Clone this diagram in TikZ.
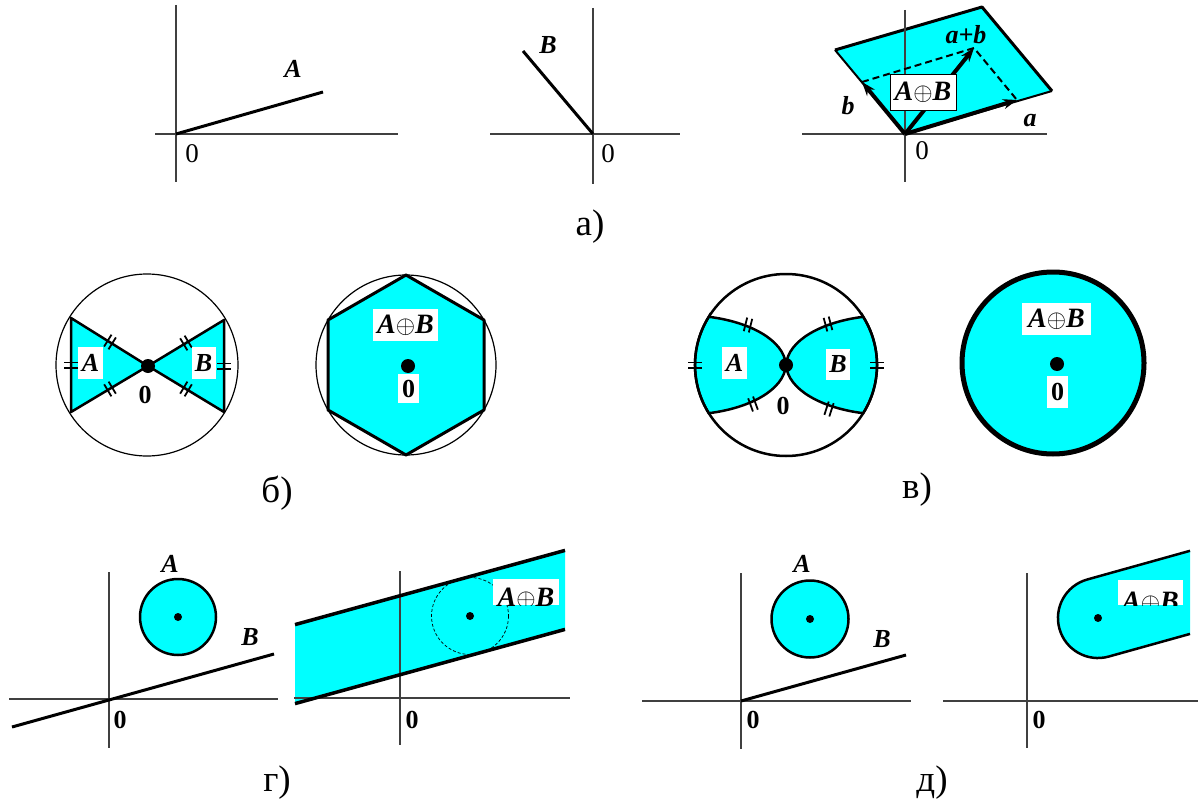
\documentclass[tikz,border=0pt]{standalone}
\usepackage{fontspec}
\setmainfont{Liberation Serif}
\usetikzlibrary{arrows.meta}
\definecolor{aqua}{RGB}{0,255,255}
\begin{document}
\begin{tikzpicture}[x=1pt,y=-1pt,
  axis/.style={line width=1.1pt, black!75},
  seg/.style={line width=3pt, black},
  lbl/.style={font=\fontsize{26}{28}\selectfont\bfseries\itshape, inner sep=0pt},
  zero/.style={font=\fontsize{27}{29}\selectfont, inner sep=0pt},
  bzero/.style={font=\fontsize{26}{28}\selectfont\bfseries, inner sep=0pt},
  sumtxt/.style={font=\fontsize{28}{30}\selectfont\bfseries\itshape, inner sep=0pt},
  wbox/.style={fill=white, inner sep=0pt},
  capt/.style={font=\fontsize{37}{40}\selectfont, inner sep=0pt},
  bigdot/.style={circle, fill=black, inner sep=0pt, minimum size=14pt},
  smalldot/.style={circle, fill=black, inner sep=0pt, minimum size=8pt},
  vec/.style={line width=4pt, -{Stealth[length=14pt,width=10pt]}},
  dtick/.pic={\draw[line width=1.8pt] (-2.6,-7) -- (-2.6,7) (2.6,-7) -- (2.6,7);}
]
\useasboundingbox (0,0) rectangle (1198,805);

% ================= panel a) left =================
\coordinate (o1) at (176,134);
\coordinate (a1e) at (323,92);
\draw[axis] (155,134) -- (398,134);
\draw[axis] (176,5) -- (176,182);
\draw[seg] (o1) -- (a1e);
\node[lbl] (A1) at (293,69) {A};
\node[zero] (z1) at (192,154) {0};

% ================= panel a) middle =================
\coordinate (o2) at (593,134);
\coordinate (b2e) at (523,51);
\draw[axis] (490,134) -- (680,134);
\draw[axis] (593,8) -- (593,184);
\draw[seg] (o2) -- (b2e);
\node[lbl] (B2) at (548,45) {B};
\node[zero] (z2) at (608,154) {0};

% ================= panel a) right =================
\coordinate (o3) at (905,134);
\coordinate (p1) at (1052,91);
\coordinate (p2) at (982,7);
\coordinate (p3) at (835,50);
\coordinate (ta) at (1017,100);
\coordinate (tb) at (862,82);
\coordinate (tab) at (974,48);
\fill[aqua] (o3) -- (p1) -- (p2) -- (p3) -- cycle;
\draw[line width=2pt] (p1) -- (o3) -- (p3);
\draw[line width=3pt, line join=round] (p3) -- (p2) -- (p1);
\draw[axis] (802,134) -- (1047,134);
\draw[axis] (905,10) -- (905,182);
\draw[line width=2pt, dashed, dash pattern=on 7pt off 4pt] (tb) -- (tab) -- (ta);
\draw[vec] (o3) -- (ta);
\draw[vec] (o3) -- (tb);
\draw[vec] (o3) -- (tab);
\node[draw, fill=white, line width=0.8pt, minimum width=66pt, minimum height=36pt, inner sep=0pt,
      sumtxt] (S3) at (923,92) {A$\oplus$B};
\node[lbl] (ab) at (966,35) {a+b};
\node[lbl] (lb) at (848,106) {b};
\node[lbl] (la) at (1030,121) {a};
\node[zero] (z3) at (922,151) {0};

\node[capt] (capa) at (590,227) {а)};

% ================= panel б) left =================
\coordinate (c4) at (147,365);
\coordinate (o4) at (148,366);
\draw[line width=1.2pt] (c4) circle (91);
\filldraw[fill=aqua, line width=2.5pt, line join=round] (71,318) -- (o4) -- (71,412) -- cycle;
\filldraw[fill=aqua, line width=2.5pt, line join=round] (224,320) -- (o4) -- (224,412) -- cycle;
\node[bigdot] (d4) at (o4) {};
\pic[rotate=-32] at (110,342) {dtick};
\pic[rotate=31] at (110,389) {dtick};
\pic[rotate=31] at (186,343) {dtick};
\pic[rotate=-31] at (186,389) {dtick};
\pic[rotate=90] at (71,365) {dtick};
\pic[rotate=90] at (224,366) {dtick};
\node[wbox, minimum width=25pt, minimum height=32pt, lbl] (A4) at (90.5,363) {A};
\node[wbox, minimum width=24pt, minimum height=32pt, lbl] (B4) at (203.5,363) {B};
\node[bzero] (z4) at (145,395) {0};

% ================= panel б) right =================
\coordinate (c5) at (406,365);
\draw[line width=1.2pt] (c5) circle (90);
\filldraw[fill=aqua, line width=3pt, line join=round]
  (406,275) -- (484,320) -- (484,410) -- (406,455) -- (328,410) -- (328,320) -- cycle;
\node[wbox, minimum width=65pt, minimum height=32pt, sumtxt] (S5) at (405.5,325) {A$\oplus$B};
\node[bigdot] (d5) at (408,366) {};
\node[wbox, minimum width=21pt, minimum height=29pt, bzero] (z5) at (408.5,388.5) {0};

\node[capt] (capb) at (277,493) {б)};

% ================= panel в) left =================
\coordinate (c6) at (786,365);
\filldraw[fill=aqua, line width=2.5pt]
  (708.8,316.8) .. controls (750,322) and (784,340) .. (786,365)
  .. controls (784,390) and (750,408) .. (708.8,413.2)
  arc (148:212:91) -- cycle;
\filldraw[fill=aqua, line width=2.5pt]
  (863.2,316.8) .. controls (822,322) and (788,340) .. (786,365)
  .. controls (788,390) and (822,408) .. (863.2,413.2)
  arc (32:-32:91) -- cycle;
\draw[line width=2.5pt] (c6) circle (91);
\node[bigdot] (d6) at (c6) {};
\pic[rotate=-14] at (748,325) {dtick};
\pic[rotate=20] at (753,404) {dtick};
\pic[rotate=15] at (828,324) {dtick};
\pic[rotate=-18] at (829,409) {dtick};
\pic[rotate=90] at (695,365) {dtick};
\pic[rotate=90] at (877,365) {dtick};
\node[wbox, minimum width=25pt, minimum height=32pt, lbl] (A6) at (734.5,363) {A};
\node[wbox, minimum width=24pt, minimum height=31pt, lbl] (B6) at (838,364.5) {B};
\node[bzero] (z6) at (783,406) {0};

% ================= panel в) right =================
\coordinate (c7) at (1053,363);
\filldraw[fill=aqua, line width=5pt] (c7) circle (91);
\node[wbox, minimum width=69pt, minimum height=32pt, sumtxt] (S7) at (1056.5,319) {A$\oplus$B};
\node[bigdot] (d7) at (1057,364) {};
\node[wbox, minimum width=21pt, minimum height=32pt, bzero] (z7) at (1057.5,392) {0};

\node[capt] (capv) at (917,490) {в)};

% ================= panel г) left =================
\coordinate (o8) at (109,699);
\coordinate (c8) at (178,617);
\coordinate (l8a) at (12,727);
\coordinate (l8b) at (274,654);
\draw[axis] (9,699) -- (278,699);
\draw[axis] (109,572) -- (109,748);
\draw[seg] (l8a) -- (l8b);
\filldraw[fill=aqua, line width=2.5pt] (c8) circle (38);
\node[smalldot] (d8) at (c8) {};
\node[lbl] (A8) at (170,564) {A};
\node[lbl] (B8) at (250,637) {B};
\node[bzero] (z8) at (120,720) {0};

% ================= panel г) right =================
\coordinate (c9) at (470,616);
\coordinate (u9a) at (295,624.6);
\coordinate (u9b) at (565,550.4);
\coordinate (w9a) at (295,703.6);
\coordinate (w9b) at (565,629.4);
\fill[aqua] (u9a) -- (u9b) -- (w9b) -- (w9a) -- cycle;
\draw[axis] (294,698) -- (570,698);
\draw[axis] (400,571) -- (400,745);
\draw[line width=3.5pt] (u9a) -- (u9b);
\draw[line width=3.5pt] (w9a) -- (w9b);
\draw[line width=0.7pt, densely dashed] (c9) circle (38.5);
\node[smalldot] (d9) at (c9) {};
\fill[white] (493,579) rectangle (559,605);
\begin{scope}
  \clip (493,579) rectangle (559,605);
  \node[sumtxt, anchor=base] (S9) at (526,606) {A$\oplus$B};
\end{scope}
\node[bzero] (z9) at (412,720) {0};

\node[capt] (capg) at (277,783) {г)};

% ================= panel д) left =================
\coordinate (o10) at (741,701);
\coordinate (e10) at (906,655);
\coordinate (c10) at (810,619);
\draw[axis] (642,701) -- (911,701);
\draw[axis] (741,573) -- (741,749);
\draw[seg] (o10) -- (e10);
\filldraw[fill=aqua, line width=2.5pt] (c10) circle (38.5);
\node[smalldot] (d10) at (c10) {};
\node[lbl] (A10) at (802,564) {A};
\node[lbl] (B10) at (882,639) {B};
\node[bzero] (z10) at (753,720) {0};

% ================= panel д) right =================
\coordinate (c11) at (1098,618);
\coordinate (ut) at (1087.2,579.5);
\coordinate (ue) at (1190,550.8);
\coordinate (lt) at (1108.8,656.5);
\coordinate (le) at (1190,633.9);
\draw[axis] (943,701) -- (1198,701);
\draw[axis] (1027,573) -- (1027,748);
\fill[aqua] (c11) circle (40);
\fill[aqua] (ut) -- (ue) -- (le) -- (lt) -- cycle;
\draw[line width=2.5pt] (ue) -- (ut) arc (254.4:74.4:40) -- (le);
\node[smalldot] (d11) at (c11) {};
\fill[white] (1118,580) rectangle (1183,605);
\begin{scope}
  \clip (1118,580) rectangle (1183,605);
  \node[sumtxt, anchor=base] (S11) at (1150.5,610) {A$\oplus$B};
\end{scope}
\node[bzero] (z11) at (1039,720) {0};

\node[capt] (capd) at (932,783) {д)};
\end{tikzpicture}
\end{document}
